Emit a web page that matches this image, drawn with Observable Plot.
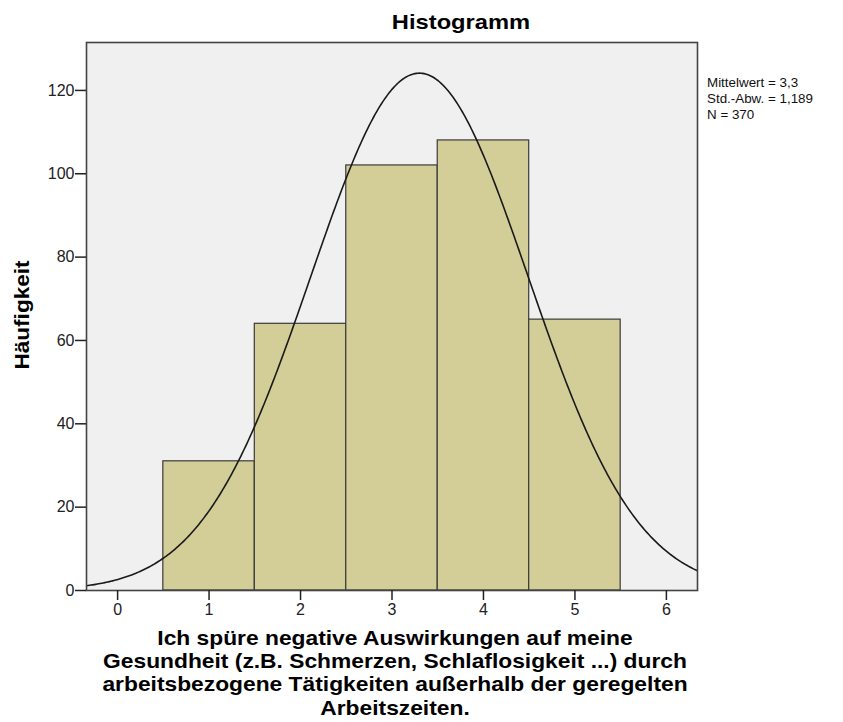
<!DOCTYPE html>
<html>
<head>
<meta charset="utf-8">
<script src="https://cdn.jsdelivr.net/npm/d3@7"></script>
<script src="https://cdn.jsdelivr.net/npm/@observablehq/plot@0.6"></script>
<style>
  html, body { margin: 0; padding: 0; background: #fff; }
  #chart svg { display: block; }
</style>
</head>
<body>
<div id="chart"></div>
<script>
// Data
const categories = [1, 2, 3, 4, 5];
const counts = [31, 64, 102, 108, 65];
const xTicks = [0, 1, 2, 3, 4, 5, 6];
const xTickLabels = ["0", "1", "2", "3", "4", "5", "6"];
const yTicks = [0, 20, 40, 60, 80, 100, 120];
const yTickLabels = ["0", "20", "40", "60", "80", "100", "120"];
const statMean = 3.3;
const statSd = 1.189;
const statN = 370;
const statLabels = ["Mittelwert = 3,3", "Std.-Abw. = 1,189", "N = 370"];
const titleText = "Histogramm";
const yLabel = "Häufigkeit";
const xLabelLines = [
  "Ich spüre negative Auswirkungen auf meine",
  "Gesundheit (z.B. Schmerzen, Schlaflosigkeit ...) durch",
  "arbeitsbezogene Tätigkeiten außerhalb der geregelten",
  "Arbeitszeiten."
];

const bars = categories.map((c, i) => ({x1: c - 0.5, x2: c + 0.5, y: counts[i]}));

// Fitted normal curve from the stated mean, sd and N (bin width 1)
const xDomain = [-0.34, 6.34];
const curve = d3.range(0, 401).map(i => {
  const x = xDomain[0] + (xDomain[1] - xDomain[0]) * i / 400;
  const z = (x - statMean) / statSd;
  return {x, y: statN / (statSd * Math.sqrt(2 * Math.PI)) * Math.exp(-0.5 * z * z)};
});

const W = 843, H = 722;
const font = "Liberation Sans, Arial, sans-serif";
const xFmt = v => xTickLabels[xTicks.indexOf(v)];
const yFmt = v => yTickLabels[yTicks.indexOf(v)];
const chart = Plot.plot({
  width: W,
  height: H,
  marginLeft: 86,
  marginRight: 146,
  marginTop: 42,
  marginBottom: 132,
  style: {fontFamily: font, fontSize: "16px", color: "#222", background: "#fff"},
  x: {domain: xDomain},
  y: {domain: [0, 131.5]},
  marks: [
    Plot.frame({fill: "#f0f0f0", stroke: "none"}),
    Plot.rect(bars, {x1: "x1", x2: "x2", y1: 0, y2: "y", fill: "#d3ce97", stroke: "#3a3a3a", strokeWidth: 1.2}),
    Plot.line(curve, {x: "x", y: "y", stroke: "#1a1a1a", strokeWidth: 1.6, clip: true}),
    Plot.frame({stroke: "#444", strokeWidth: 1.6}),
    Plot.axisY(yTicks, {tickFormat: yFmt, tickSize: 11, tickPadding: 1, label: null, fontSize: 16, stroke: "#222", strokeWidth: 1.5}),
    Plot.axisX(xTicks, {tickFormat: xFmt, tickSize: 10, tickPadding: 3, label: null, fontSize: 16, stroke: "#222", strokeWidth: 1.5})
  ]
});
document.getElementById("chart").appendChild(chart);

const svg = d3.select(chart);
svg.selectAll('g[aria-label$="tick label"] text').style("font-size", "16px").attr("fill", "#222");

svg.append("g")
  .attr("transform", "translate(461,29) scale(1.13,1)")
  .append("text")
  .attr("x", 0).attr("y", 0)
  .attr("text-anchor", "middle")
  .attr("font-family", font).attr("font-weight", "bold").attr("font-size", 21)
  .attr("fill", "#000")
  .text(titleText);

svg.append("g")
  .attr("transform", "translate(29,315) rotate(-90) scale(1.13,1)")
  .append("text")
  .attr("x", 0).attr("y", 0)
  .attr("text-anchor", "middle")
  .attr("font-family", font).attr("font-weight", "bold").attr("font-size", 20)
  .attr("fill", "#000")
  .text(yLabel);

const xl = svg.append("g")
  .attr("transform", "translate(395,0) scale(1.14,1)")
  .append("text")
  .attr("text-anchor", "middle")
  .attr("font-family", font).attr("font-weight", "bold").attr("font-size", 20)
  .attr("fill", "#000");
xLabelLines.forEach((t, i) => {
  xl.append("tspan").attr("x", 0).attr("y", 645 + i * 23.2).text(t);
});

const lg = svg.append("g")
  .attr("transform", "translate(707,0) scale(1.03,1)")
  .append("text")
  .attr("text-anchor", "start")
  .attr("font-family", font).attr("font-size", 13)
  .attr("fill", "#111");
statLabels.forEach((t, i) => {
  lg.append("tspan").attr("x", 0).attr("y", 87 + i * 16).text(t);
});
</script>
</body>
</html>
